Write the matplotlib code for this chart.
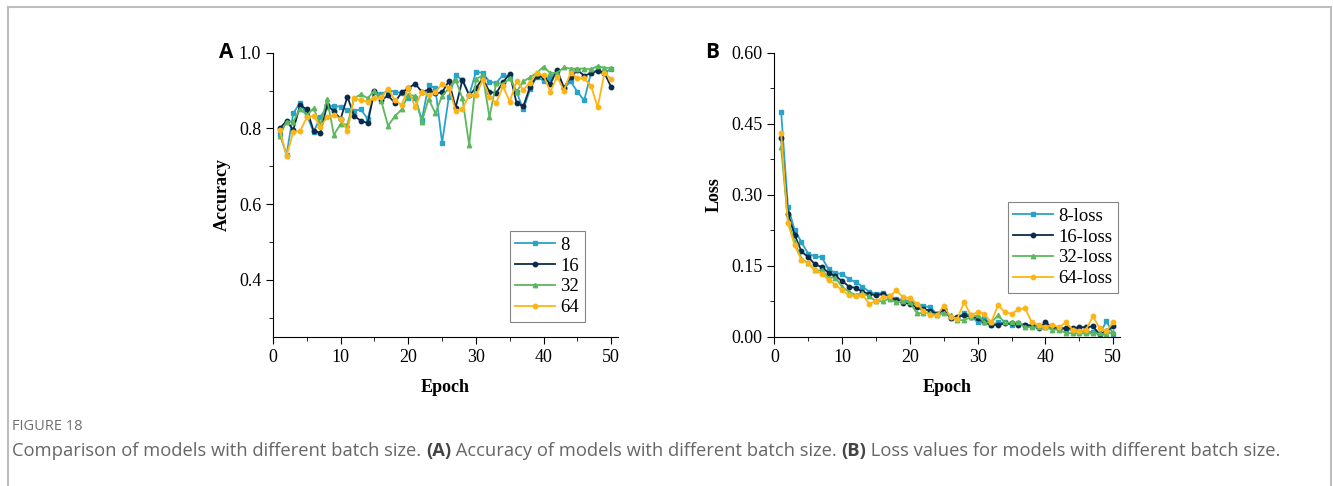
import matplotlib
matplotlib.use("Agg")
import matplotlib.pyplot as plt
from matplotlib.lines import Line2D
from matplotlib.ticker import MultipleLocator
import numpy as np

#########################################################################################
#
# Data
#
#########################################################################################
epochs = list(range(1, 51))

acc_8 = [0.786, 0.730, 0.840, 0.868, 0.835, 0.790, 0.830, 0.857, 0.860, 0.857,
         0.848, 0.846, 0.850, 0.825, 0.897, 0.890, 0.900, 0.897, 0.893, 0.880,
         0.880, 0.823, 0.915, 0.906, 0.762, 0.884, 0.940, 0.928, 0.888, 0.949,
         0.947, 0.923, 0.920, 0.941, 0.937, 0.897, 0.850, 0.903, 0.937, 0.926,
         0.932, 0.950, 0.906, 0.924, 0.897, 0.874, 0.946, 0.954, 0.946, 0.958]
acc_16 = [0.800, 0.820, 0.796, 0.862, 0.850, 0.794, 0.788, 0.862, 0.845, 0.825,
          0.884, 0.833, 0.820, 0.814, 0.900, 0.874, 0.887, 0.868, 0.895, 0.906,
          0.918, 0.897, 0.902, 0.893, 0.895, 0.925, 0.855, 0.928, 0.888, 0.906,
          0.932, 0.897, 0.893, 0.922, 0.944, 0.868, 0.858, 0.910, 0.939, 0.935,
          0.918, 0.954, 0.908, 0.935, 0.954, 0.939, 0.946, 0.952, 0.946, 0.909]
acc_32 = [0.781, 0.818, 0.818, 0.852, 0.835, 0.853, 0.810, 0.877, 0.783, 0.812,
          0.810, 0.880, 0.890, 0.880, 0.900, 0.873, 0.807, 0.832, 0.850, 0.889,
          0.886, 0.817, 0.878, 0.840, 0.886, 0.906, 0.928, 0.880, 0.756, 0.930,
          0.940, 0.830, 0.920, 0.917, 0.932, 0.897, 0.924, 0.935, 0.947, 0.963,
          0.946, 0.947, 0.961, 0.958, 0.958, 0.958, 0.956, 0.965, 0.960, 0.960]
acc_64 = [0.796, 0.728, 0.790, 0.793, 0.829, 0.833, 0.805, 0.829, 0.835, 0.825,
          0.794, 0.880, 0.874, 0.871, 0.880, 0.882, 0.905, 0.875, 0.862, 0.906,
          0.856, 0.897, 0.888, 0.895, 0.918, 0.908, 0.847, 0.852, 0.887, 0.887,
          0.928, 0.884, 0.867, 0.912, 0.871, 0.924, 0.902, 0.921, 0.946, 0.940,
          0.897, 0.937, 0.900, 0.947, 0.932, 0.932, 0.913, 0.856, 0.947, 0.930]

loss_8 = [0.475, 0.275, 0.225, 0.200, 0.175, 0.170, 0.168, 0.142, 0.135, 0.132,
          0.122, 0.115, 0.106, 0.095, 0.090, 0.093, 0.085, 0.080, 0.078, 0.075,
          0.068, 0.065, 0.062, 0.048, 0.055, 0.040, 0.040, 0.050, 0.045, 0.030,
          0.040, 0.025, 0.030, 0.030, 0.025, 0.028, 0.025, 0.025, 0.022, 0.020,
          0.020, 0.018, 0.015, 0.015, 0.012, 0.010, 0.010, 0.005, 0.033, 0.005]
loss_16 = [0.420, 0.260, 0.215, 0.180, 0.168, 0.153, 0.147, 0.135, 0.128, 0.118,
           0.106, 0.103, 0.095, 0.090, 0.088, 0.090, 0.082, 0.078, 0.072, 0.070,
           0.062, 0.058, 0.055, 0.048, 0.058, 0.040, 0.042, 0.045, 0.042, 0.040,
           0.030, 0.025, 0.025, 0.028, 0.028, 0.025, 0.025, 0.022, 0.018, 0.030,
           0.020, 0.018, 0.018, 0.018, 0.020, 0.020, 0.022, 0.005, 0.012, 0.022]
loss_32 = [0.400, 0.245, 0.200, 0.165, 0.155, 0.140, 0.140, 0.125, 0.125, 0.105,
           0.095, 0.088, 0.092, 0.085, 0.075, 0.075, 0.080, 0.073, 0.075, 0.073,
           0.050, 0.050, 0.050, 0.045, 0.050, 0.045, 0.035, 0.035, 0.042, 0.045,
           0.030, 0.030, 0.045, 0.030, 0.030, 0.030, 0.020, 0.020, 0.020, 0.020,
           0.015, 0.015, 0.008, 0.007, 0.007, 0.007, 0.007, 0.007, 0.005, 0.010]
loss_64 = [0.430, 0.240, 0.193, 0.162, 0.155, 0.140, 0.133, 0.120, 0.110, 0.098,
           0.088, 0.085, 0.088, 0.070, 0.075, 0.083, 0.085, 0.098, 0.083, 0.082,
           0.070, 0.055, 0.045, 0.045, 0.065, 0.042, 0.038, 0.073, 0.045, 0.052,
           0.048, 0.030, 0.067, 0.052, 0.048, 0.058, 0.060, 0.030, 0.025, 0.020,
           0.025, 0.020, 0.030, 0.015, 0.012, 0.015, 0.043, 0.018, 0.012, 0.030]

acc_labels = ["8", "16", "32", "64"]
loss_labels = ["8-loss", "16-loss", "32-loss", "64-loss"]
colors = ["#2aa3c8", "#0c2b4b", "#5cb85c", "#fdb515"]
markers = ["s", "o", "^", "o"]

#########################################################################################
#
# Methods
#
#########################################################################################
SERIF = ["Liberation Serif", "DejaVu Serif"]


def style_axes(ax, ylabel):
    """
    Origin-like axes: left/bottom spines only, outward ticks, serif labels
    """
    ax.spines["top"].set_visible(False)
    ax.spines["right"].set_visible(False)
    ax.tick_params(which="both", direction="out", top=False, right=False)
    ax.tick_params(which="major", length=5, labelsize=13)
    ax.tick_params(which="minor", length=3)
    for lab in ax.get_xticklabels() + ax.get_yticklabels():
        lab.set_family(SERIF)
    ax.set_xlim(0, 51)
    ax.xaxis.set_major_locator(MultipleLocator(10))
    ax.xaxis.set_minor_locator(MultipleLocator(5))
    ax.set_xlabel("Epoch", family=SERIF, fontweight="bold", fontsize=13, labelpad=10)
    ax.set_ylabel(ylabel, family=SERIF, fontweight="bold", fontsize=13, labelpad=6)


def plot_series(ax, series, labels, anchor):
    for ys, lab, c, m in zip(series, labels, colors, markers):
        ax.plot(epochs, ys, color=c, marker=m, markersize=3.2, linewidth=1.3, label=lab)
    leg = ax.legend(loc="lower right", bbox_to_anchor=anchor, frameon=True, fancybox=False,
                    edgecolor="#666666", prop={"family": SERIF, "size": 13.5},
                    handlelength=2.1, handletextpad=0.3, borderpad=0.3, labelspacing=0.2,
                    borderaxespad=0)
    leg.get_frame().set_linewidth(0.8)


#########################################################################################
#
# Figure
#
#########################################################################################
fig = plt.figure(figsize=(13.33, 4.86), dpi=100)

ax_a = fig.add_axes([0.2048, 0.3072, 0.2588, 0.5844])
plot_series(ax_a, [acc_8, acc_16, acc_32, acc_64], acc_labels, (0.904, 0.052))
ax_a.set_ylim(0.25, 1.0)
ax_a.yaxis.set_minor_locator(MultipleLocator(0.1))
ax_a.set_yticks([0.4, 0.6, 0.8, 1.0])
ax_a.yaxis.set_major_formatter(plt.FormatStrFormatter("%.1f"))
style_axes(ax_a, "Accuracy")

ax_b = fig.add_axes([0.5809, 0.3072, 0.2593, 0.5844])
plot_series(ax_b, [loss_8, loss_16, loss_32, loss_64], loss_labels, (0.994, 0.154))
ax_b.set_ylim(0, 0.6)
ax_b.yaxis.set_major_locator(MultipleLocator(0.15))
ax_b.yaxis.set_minor_locator(MultipleLocator(0.075))
ax_b.yaxis.set_major_formatter(plt.FormatStrFormatter("%.2f"))
style_axes(ax_b, "Loss")

# Panel letters
fig.text(219 / 1333, 1 - 53 / 486, "A", fontsize=15, fontweight="bold", family="Open Sans", va="center")
fig.text(705 / 1333, 1 - 53 / 486, "B", fontsize=15, fontweight="bold", family="Open Sans", va="center")

# Card border
border = "#bdbdbd"
fig.add_artist(Line2D([8 / 1333, 8 / 1333], [0, 1 - 7 / 486], transform=fig.transFigure, color=border, lw=1.5))
fig.add_artist(Line2D([8 / 1333, 1331 / 1333], [1 - 7 / 486, 1 - 7 / 486], transform=fig.transFigure, color=border, lw=1.5))
fig.add_artist(Line2D([1331 / 1333, 1331 / 1333], [0, 1 - 7 / 486], transform=fig.transFigure, color=border, lw=1.5))

# Caption
fig.text(12 / 1333, 1 - 426 / 486, "FIGURE 18", fontsize=10.5, color="#707070", family="Open Sans", va="center")

pieces = [("Comparison of models with different batch size. ", "normal", "#666666"),
          ("(A)", "bold", "#444444"),
          (" Accuracy of models with different batch size. ", "normal", "#666666"),
          ("(B)", "bold", "#444444"),
          (" Loss values for models with different batch size.", "normal", "#666666")]
fig.canvas.draw()
renderer = fig.canvas.get_renderer()
x = 12 / 1333
for txt, weight, col in pieces:
    t = fig.text(x, 1 - 451 / 486, txt, fontsize=13.2, fontweight=weight, color=col,
                 family="Open Sans", va="center")
    bb = t.get_window_extent(renderer=renderer)
    x += bb.width / fig.bbox.width

fig.savefig("out.png", dpi=100)
